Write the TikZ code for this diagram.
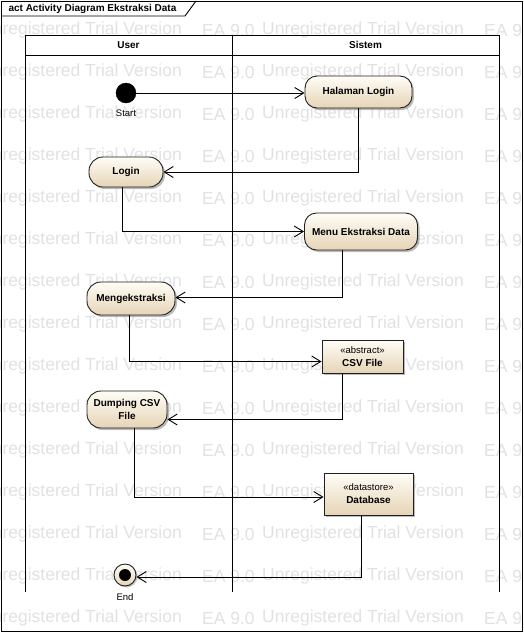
\documentclass[tikz,border=0pt]{standalone}
\usepackage{fontspec}
\setmainfont{Liberation Sans}
\usetikzlibrary{arrows.meta,shadows}

\definecolor{actTop}{HTML}{FFFDF7}
\definecolor{actBot}{HTML}{E6D4B6}
\definecolor{wmark}{HTML}{E2E2E2}
\definecolor{edge}{HTML}{202020}

% small upright type for stereotype lines
\newcommand{\stereotxt}[1]{{\mdseries\fontsize{9.5}{11}\selectfont #1}}

\tikzset{
  boxbase/.style={draw=edge, line width=0.9pt, top color=actTop, bottom color=actBot,
    align=center, inner sep=0pt,
    font=\bfseries\fontsize{10}{13}\selectfont,
    drop shadow={shadow xshift=2pt, shadow yshift=-2pt, fill=black!45, opacity=0.6}},
  action/.style={boxbase, rectangle, rounded corners=12pt},
  objnode/.style={boxbase, rectangle},
  initial/.style={circle, fill=black, draw=black, minimum size=20pt, inner sep=0pt},
  final/.style={circle, draw=edge, line width=0.9pt, top color=actTop, bottom color=actBot,
    minimum size=22pt, inner sep=0pt,
    drop shadow={shadow xshift=1.5pt, shadow yshift=-1.5pt, fill=black!45, opacity=0.5}},
  caption/.style={font=\fontsize{9.5}{11}\selectfont},
  header/.style={font=\bfseries\fontsize{10}{12}\selectfont},
  frameline/.style={line width=0.9pt, draw=black},
  flow/.style={line width=0.9pt, draw=black,
    -{Straight Barb[length=9pt,width=11pt,line width=0.9pt]}},
  wm/.style={text=wmark, font=\fontsize{17.5}{20}\selectfont, anchor=west, inner sep=0pt}
}

\begin{document}
\begin{tikzpicture}[x=1pt,y=-1pt]
  \useasboundingbox (0,0) rectangle (524,633);
  \fill[white] (0,0) rectangle (524,633);

  % trial watermark rows
  \begin{scope}
    \clip (0,0) rectangle (524,633);
    \foreach \r in {0,...,14} {
      \pgfmathsetmacro{\yy}{30+42*\r}
      \node[wm] at (-80,\yy) {EA 9.0};
      \node[wm] at (-20,\yy) {Unregistered Trial Version};
      \node[wm] at (202,\yy) {EA 9.0};
      \node[wm] at (262,\yy) {Unregistered Trial Version};
      \node[wm] at (484,\yy) {EA 9.0};
    }
  \end{scope}

  % diagram frame and name tab
  \draw[frameline] (1,1) rectangle (522,631);
  \draw[frameline] (1,16) -- (185,16) -- (196,1);
  \node[header, anchor=west] (title) at (5,8.5) {act Activity Diagram Ekstraksi Data};

  % swimlanes
  \draw[frameline] (25,592) -- (25,35) -- (499,35) -- (499,592);
  \draw[frameline] (25,55) -- (499,55);
  \draw[frameline] (232,35) -- (232,592);
  \node[header] (laneUser) at (128.5,45) {User};
  \node[header] (laneSys) at (365.5,45) {Sistem};

  % activity nodes
  \node[initial] (start) at (126,93) {};
  \node[caption] (startlbl) at (126,113) {Start};
  \node[action, minimum width=107pt, minimum height=32pt] (hal) at (358.5,92) {Halaman Login};
  \node[action, minimum width=74pt, minimum height=30pt, rounded corners=14pt] (login) at (126,172) {Login};
  \node[action, minimum width=113pt, minimum height=37pt] (menu) at (361,231.5) {Menu Ekstraksi Data};
  \node[action, minimum width=88pt, minimum height=33pt, rounded corners=14pt] (meng) at (131,298.5) {Mengekstraksi};
  \node[objnode, minimum width=81pt, minimum height=33pt] (csv) at (362.5,356.5)
    {\stereotxt{«abstract»}\\CSV File};
  \node[action, minimum width=80pt, minimum height=37pt, rounded corners=14pt] (dump) at (127,409.5)
    {Dumping CSV\\File};
  \node[objnode, minimum width=89pt, minimum height=42pt] (db) at (368.5,494)
    {\stereotxt{«datastore»}\\Database};
  \node[final] (end) at (125,575) {};
  \fill[black] (end) circle (6pt);
  \node[caption] (endlbl) at (125,597) {End};

  % control flows
  \draw[flow] (start) -- (hal.west |- start);
  \draw[flow] (hal.south) |- (login.east);
  \draw[flow] ([xshift=-4pt]login.south) |- (menu.west);
  \draw[flow] ([xshift=-19pt]menu.south) |- ([yshift=1pt]meng.east);
  \draw[flow] ([xshift=-2pt]meng.south) |- ([yshift=-5pt]csv.west);
  \draw[flow] ([xshift=-20pt]csv.south) |- ([yshift=-10pt]dump.east);
  \draw[flow] ([xshift=7pt]dump.south) |- ([yshift=-3pt]db.west);
  \draw[flow] ([xshift=-7pt]db.south) |- ([yshift=-2pt]end.east);
\end{tikzpicture}
\end{document}
